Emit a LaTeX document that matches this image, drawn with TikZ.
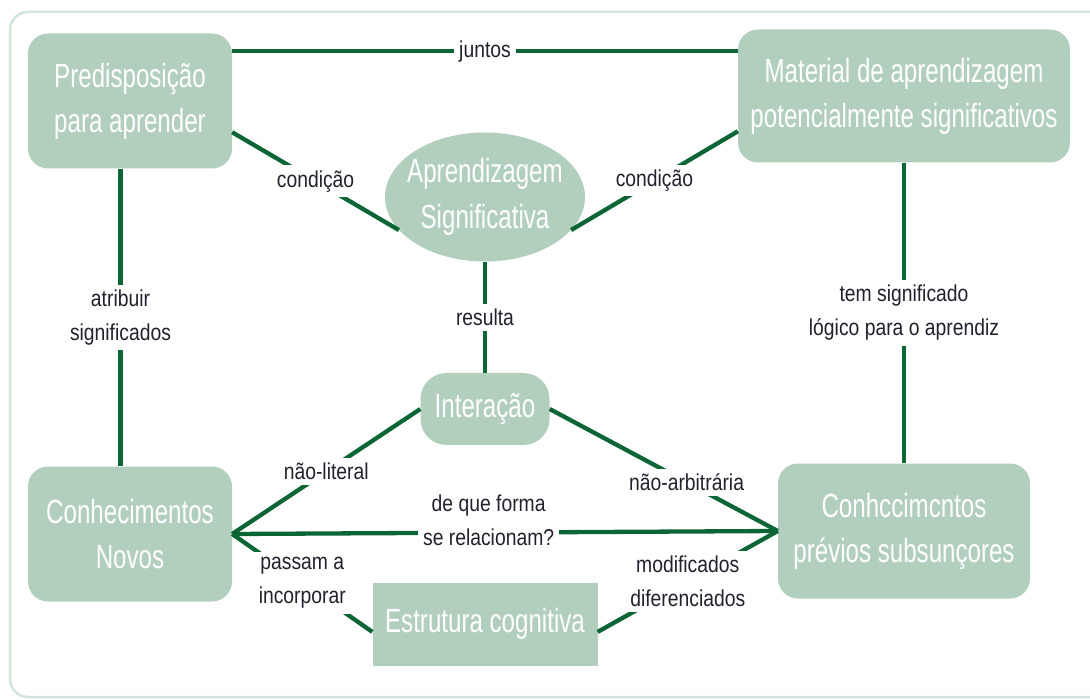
\documentclass[tikz,border=0pt]{standalone}
\usepackage{fontspec}
\newfontfamily\boxfont[FakeStretch=0.72]{Liberation Sans}
\newfontfamily\lblfont[FakeStretch=0.84]{Liberation Sans}
\usetikzlibrary{shapes.geometric, positioning}
\definecolor{boxgreen}{HTML}{B2CFBE}
\definecolor{linegreen}{HTML}{0B6534}
\definecolor{framegreen}{HTML}{D2E5D8}
\definecolor{lbltext}{HTML}{22222E}

\begin{document}
\begin{tikzpicture}[x=1pt, y=1pt, on grid,
	conc/.style={rectangle, rounded corners=20pt, fill=boxgreen, text=white, align=center,
		font=\boxfont\fontsize{33.5}{45}\selectfont, minimum width=204pt, minimum height=135pt},
	ell/.style={ellipse, fill=boxgreen, text=white, align=center, inner xsep=-14pt, inner ysep=0pt,
		font=\boxfont\fontsize{33.5}{46}\selectfont, minimum width=200pt, minimum height=129pt},
	lbl/.style={fill=white, text=lbltext, align=center, inner sep=5pt,
		font=\lblfont\fontsize{23}{34}\selectfont},
	link/.style={draw=linegreen, line width=4.3pt}]
	\useasboundingbox (0,0) rectangle (1090,-700);
	\clip (0,0) rectangle (1090,-700);
	\draw[framegreen, line width=2.5pt, rounded corners=18pt] (10,-12) rectangle (1110,-697);
	
	\node[conc] (pre) at (130,-101) {Predisposição\\para aprender};
	\node[conc, minimum width=332pt, minimum height=133pt] (mat) at (904,-96) {Material de aprendizagem\\potencialmente significativos};
	\node[ell] (apr) at (485,-197) {Aprendizagem\\Significativa};
	\node[conc, rounded corners=26pt, minimum width=129pt, minimum height=72pt] (int) [below=212pt of apr] {Interação};
	\node[conc] (cn) [below=433pt of pre] {Conhecimentos\\Novos};
	\node[conc, minimum width=252pt] (pv) [below=435pt of mat] {Conhccimcntos\\prévios subsunçores};
	\node[conc, rounded corners=0pt, minimum width=225pt, minimum height=83pt] (est) [below=215pt of int] {Estrutura cognitiva};
	
	\path[link]
	(pre.26) edge node[lbl] {juntos} (pre.26 -| mat.west)
	(pre.-17) edge node[lbl] {condição} (apr.201)
	(apr.-21) edge node[lbl] {condição} (mat.192)
	(pre.-98) edge node[lbl] {atribuir\\significados} (cn.98)
	(mat.south) edge node[lbl] {tem significado\\lógico para o aprendiz} (pv.north)
	(apr.south) edge node[lbl] {resulta} (int.north)
	
	(int.west) edge node[lbl] {não-literal} (cn.east)
	(int.east) edge node[lbl, pos=.6] {não-arbitrária} (pv.west)
	(cn.east) edge node[lbl, pos=.47, yshift=12pt] {de que forma\\se relacionam?} (pv.west)
	
	(est.184) edge node[lbl] {passam a\\incorporar} (cn.east)
	(est.-4) edge node[lbl] {modificados\\diferenciados} (pv.west)
	;
\end{tikzpicture}
\end{document}
